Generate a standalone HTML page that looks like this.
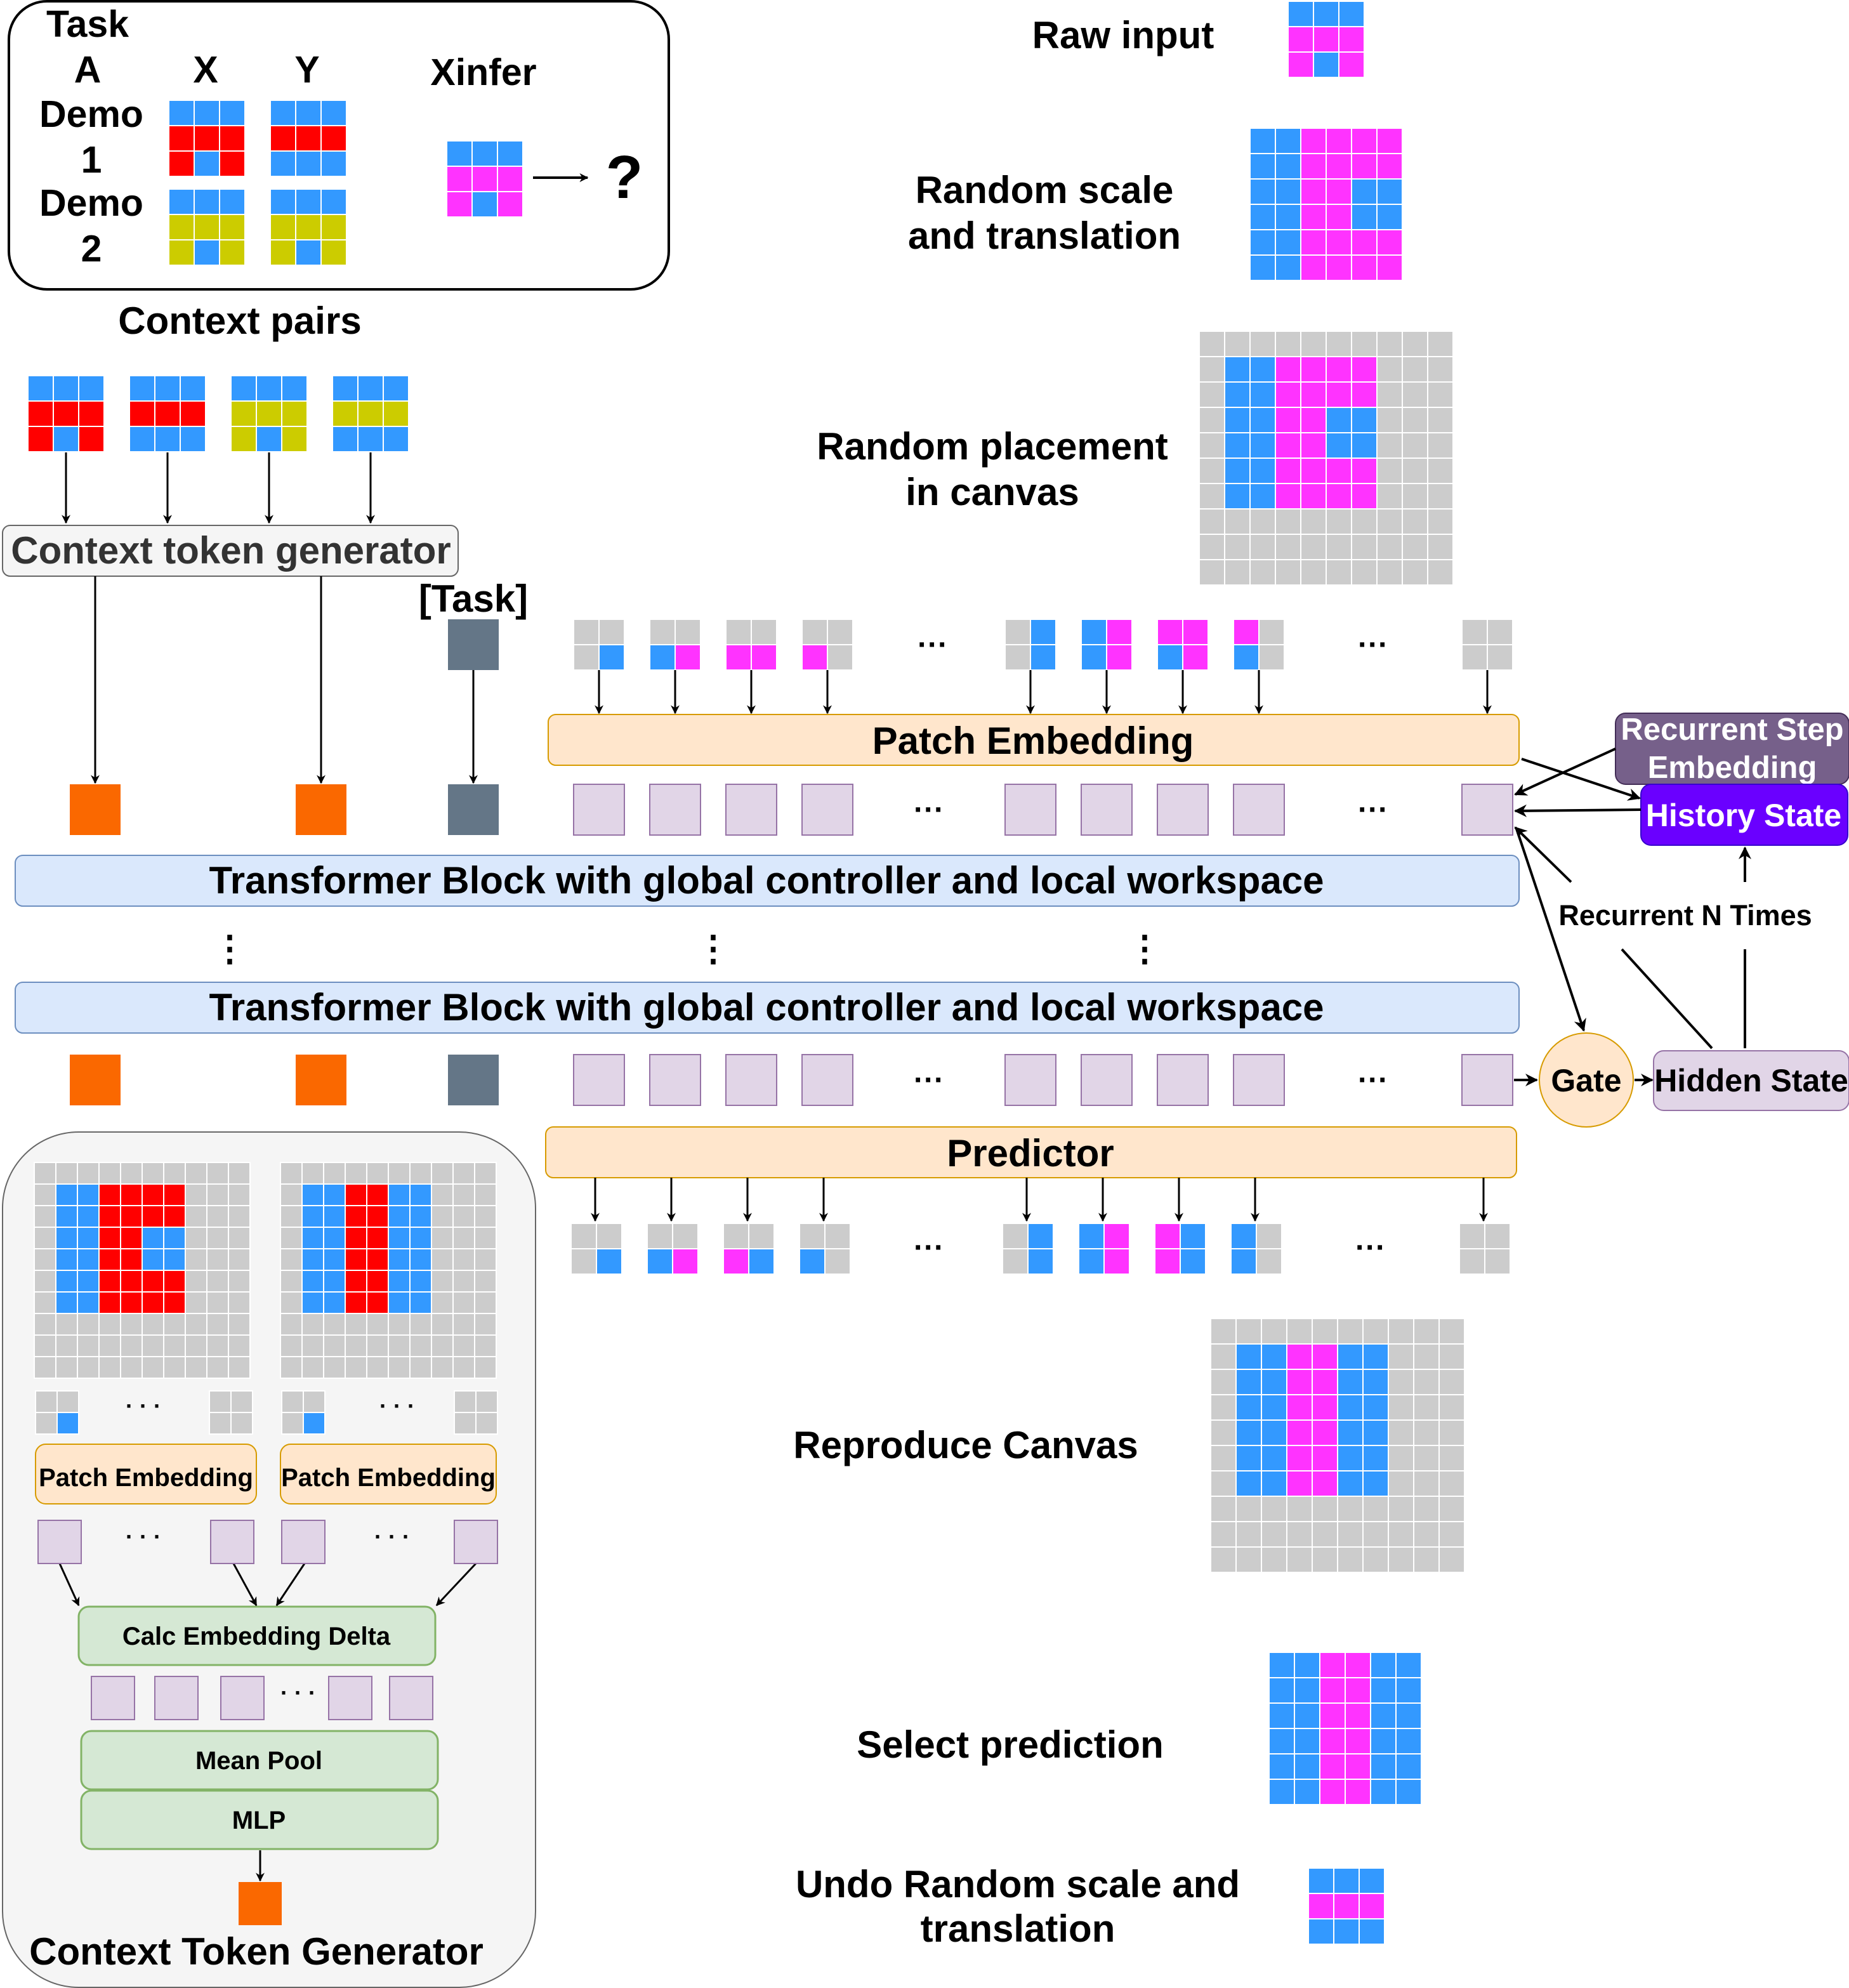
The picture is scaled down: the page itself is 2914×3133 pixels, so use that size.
<!DOCTYPE html>
<html><head><meta charset="utf-8">
<style>
html,body{margin:0;padding:0;background:#fff;}
svg{display:block;}
text{font-family:"Liberation Sans",Arial,sans-serif;font-weight:bold;fill:#000;}
</style></head>
<body>
<svg id="s" xmlns="http://www.w3.org/2000/svg" width="2914" height="3133" viewBox="0 0 1457 1566.5">
<defs>
<marker id="a" viewBox="0 0 10 10" refX="9" refY="5" markerWidth="7" markerHeight="7" orient="auto" markerUnits="userSpaceOnUse">
<path d="M0,0 L10,5 L0,10 L3,5 z" fill="#000"/></marker>
<marker id="b" viewBox="0 0 10 10" refX="9" refY="5" markerWidth="10" markerHeight="10" orient="auto" markerUnits="userSpaceOnUse">
<path d="M0,0 L10,5 L0,10 L3,5 z" fill="#000"/></marker>
</defs>
<rect width="1457" height="1566.5" fill="#fff"/>
<rect x="7" y="1" width="520" height="227" rx="30" fill="#fff" stroke="#000" stroke-width="2"/>
<g font-size="29.5" text-anchor="middle">
<text x="69" y="29">Task</text><text x="69" y="65">A</text>
<text x="162" y="65">X</text><text x="242" y="65">Y</text>
<text x="72" y="100">Demo</text><text x="72" y="136">1</text>
<text x="72" y="170">Demo</text><text x="72" y="206">2</text>
<text x="381" y="67">Xinfer</text>
</g>
<line x1="420" y1="140" x2="463" y2="140" stroke="#000" stroke-width="2" marker-end="url(#a)"/>
<text x="492" y="156" font-size="48" text-anchor="middle">?</text>

<g font-size="30" text-anchor="middle">
<text x="885" y="38">Raw input</text>
<text x="823" y="160">Random scale</text><text x="823" y="196">and translation</text>
<text x="782" y="362">Random placement</text><text x="782" y="398">in canvas</text>
<text x="189" y="263">Context pairs</text>
<text x="373" y="482">[Task]</text>
<text x="761" y="1149">Reproduce Canvas</text>
<text x="796" y="1385">Select prediction</text>
<text x="802" y="1495">Undo Random scale and</text><text x="802" y="1530">translation</text>
</g>

<rect x="2" y="414" width="359" height="40" rx="6" fill="#f5f5f5" stroke="#666" stroke-width="1"/>
<text x="182" y="444" font-size="30" text-anchor="middle" style="fill:#333">Context token generator</text>
<g stroke="#000" stroke-width="1.5" marker-end="url(#a)">
<line x1="52" y1="356" x2="52" y2="412"/><line x1="132" y1="356" x2="132" y2="412"/>
<line x1="212" y1="356" x2="212" y2="412"/><line x1="292" y1="356" x2="292" y2="412"/>
<line x1="75" y1="454" x2="75" y2="617"/><line x1="253" y1="454" x2="253" y2="617"/>
<line x1="373" y1="528" x2="373" y2="617"/>
</g>
<rect x="353" y="488" width="40" height="40" fill="#647687"/>

<rect x="432" y="563" width="765" height="40" rx="6" fill="#ffe6cc" stroke="#d79b00"/>
<text x="814" y="594" font-size="30" text-anchor="middle">Patch Embedding</text>
<rect x="12" y="674" width="1185" height="40" rx="6" fill="#dae8fc" stroke="#6c8ebf"/>
<text x="604" y="704" font-size="30" text-anchor="middle">Transformer Block with global controller and local workspace</text>
<rect x="12" y="774" width="1185" height="40" rx="6" fill="#dae8fc" stroke="#6c8ebf"/>
<text x="604" y="804" font-size="30" text-anchor="middle">Transformer Block with global controller and local workspace</text>
<g font-size="28" text-anchor="middle">
<text x="181" y="757">⋮</text><text x="562" y="757">⋮</text><text x="902" y="757">⋮</text>
</g>
<rect x="430" y="888" width="765" height="40" rx="6" fill="#ffe6cc" stroke="#d79b00"/>
<text x="812" y="919" font-size="30" text-anchor="middle">Predictor</text>

<rect x="1273" y="562" width="184" height="56" rx="8" fill="#76608a" stroke="#432d57"/>
<text x="1365" y="583" font-size="24.5" text-anchor="middle" style="fill:#fff">Recurrent Step</text>
<text x="1365" y="613" font-size="24.5" text-anchor="middle" style="fill:#fff">Embedding</text>
<rect x="1293" y="618" width="163" height="48" rx="8" fill="#6a00ff" stroke="#3700cc"/>
<text x="1374" y="651" font-size="25" text-anchor="middle" style="fill:#fff">History State</text>
<text x="1328" y="729" font-size="22.5" text-anchor="middle">Recurrent N Times</text>
<ellipse cx="1250" cy="851" rx="37" ry="37" fill="#ffe6cc" stroke="#d79b00"/>
<text x="1250" y="860" font-size="25" text-anchor="middle">Gate</text>
<rect x="1303" y="828" width="154" height="47" rx="8" fill="#e1d5e7" stroke="#9673a6"/>
<text x="1380" y="860" font-size="25" text-anchor="middle">Hidden State</text>
<g stroke="#000" stroke-width="2" fill="none">
<line x1="1199" y1="598" x2="1292" y2="629" marker-end="url(#b)"/>
<line x1="1273" y1="590" x2="1194" y2="626" marker-end="url(#b)"/>
<line x1="1293" y1="638" x2="1194" y2="639" marker-end="url(#b)"/>
<line x1="1238" y1="695" x2="1194" y2="652" marker-end="url(#b)"/>
<line x1="1196" y1="656" x2="1248" y2="812" marker-end="url(#b)"/>
<line x1="1375" y1="695" x2="1375" y2="668" marker-end="url(#b)"/>
<line x1="1349" y1="826" x2="1278" y2="748"/>
<line x1="1375" y1="826" x2="1375" y2="748"/>
<line x1="1193" y1="851" x2="1211" y2="851" marker-end="url(#b)"/>
<line x1="1288" y1="851" x2="1302" y2="851" marker-end="url(#b)"/>
</g>

<rect x="2" y="892" width="420" height="674" rx="60" fill="#f5f5f5" stroke="#666"/>
<rect x="28" y="1138" width="174" height="47" rx="8" fill="#ffe6cc" stroke="#d79b00"/>
<text x="115" y="1171" font-size="20" text-anchor="middle">Patch Embedding</text>
<rect x="221" y="1138" width="170" height="47" rx="8" fill="#ffe6cc" stroke="#d79b00"/>
<text x="306" y="1171" font-size="20" text-anchor="middle">Patch Embedding</text>
<rect x="62" y="1266" width="281" height="46" rx="8" fill="#d5e8d4" stroke="#82b366" stroke-width="1.5"/>
<text x="202" y="1296" font-size="20" text-anchor="middle">Calc Embedding Delta</text>
<rect x="64" y="1364" width="281" height="46" rx="8" fill="#d5e8d4" stroke="#82b366" stroke-width="1.5"/>
<text x="204" y="1394" font-size="20" text-anchor="middle">Mean Pool</text>
<rect x="64" y="1411" width="281" height="46" rx="8" fill="#d5e8d4" stroke="#82b366" stroke-width="1.5"/>
<text x="204" y="1441" font-size="20" text-anchor="middle">MLP</text>
<g stroke="#000" stroke-width="1.5" marker-end="url(#a)">
<line x1="47" y1="1232" x2="62" y2="1265"/><line x1="184" y1="1232" x2="202" y2="1265"/>
<line x1="240" y1="1232" x2="218" y2="1265"/><line x1="375" y1="1232" x2="344" y2="1265"/>
<line x1="205" y1="1458" x2="205" y2="1482"/>
</g>
<rect x="188" y="1483" width="34" height="34" fill="#fa6800"/>
<text x="202" y="1548" font-size="30" text-anchor="middle">Context Token Generator</text>
<g font-size="18" text-anchor="middle">
<text x="113" y="1114">· · ·</text><text x="313" y="1114">· · ·</text>
<text x="113" y="1217">· · ·</text><text x="309" y="1217">· · ·</text>
<text x="235" y="1340">· · ·</text>
</g>
<g id="gen"></g>
</svg>
<script>
var C={B:"#3399ff",R:"#ff0000",Y:"#cccc00",M:"#ff33ff",G:"#cccccc"};
var g=document.getElementById("gen"),h="";
function grid(x,y,c,rows){rows.forEach(function(r,i){for(var j=0;j<r.length;j++){h+='<rect x="'+(x+j*c)+'" y="'+(y+i*c)+'" width="'+c+'" height="'+c+'" fill="'+C[r[j]]+'" stroke="#fff" stroke-width="1"/>';}});}
function sq(x,y,s,f,st){h+='<rect x="'+x+'" y="'+y+'" width="'+s+'" height="'+s+'" fill="'+f+'"'+(st?' stroke="'+st+'"':'')+'/>';}
function txt(x,y,t,fs){h+='<text x="'+x+'" y="'+y+'" font-size="'+fs+'" text-anchor="middle">'+t+'</text>';}
grid(133,79,20,["BBB","RRR","RBR"]);grid(213,79,20,["BBB","RRR","BBB"]);
grid(133,149,20,["BBB","YYY","YBY"]);grid(213,149,20,["BBB","YYY","YBY"]);
grid(352,111,20,["BBB","MMM","MBM"]);
grid(22,296,20,["BBB","RRR","RBR"]);grid(102,296,20,["BBB","RRR","BBB"]);
grid(182,296,20,["BBB","YYY","YBY"]);grid(262,296,20,["BBB","YYY","BBB"]);
grid(1015,1,20,["BBB","MMM","MBM"]);
grid(985,101,20,["BBMMMM","BBMMMM","BBMMBB","BBMMBB","BBMMMM","BBMMMM"]);
var G10="GGGGGGGGGG";
grid(945,261,20,[G10,"GBBMMMMGGG","GBBMMMMGGG","GBBMMBBGGG","GBBMMBBGGG","GBBMMMMGGG","GBBMMMMGGG",G10,G10,G10]);
var rp="GBBMMBBGGG";
grid(954,1039,20,[G10,rp,rp,rp,rp,rp,rp,G10,G10,G10]);
var sp="BBMMBB";grid(1000,1302,20,[sp,sp,sp,sp,sp,sp]);
grid(1031,1472,20,["BBB","MMM","BBB"]);
var px=[452,512,572,632,792,852,912,972,1152];
var pin=[["GG","GB"],["GG","BM"],["GG","MM"],["GG","MG"],["GB","GB"],["BM","BM"],["MM","BM"],["MG","BG"],["GG","GG"]];
px.forEach(function(x,i){grid(x,488,20,pin[i]);
 h+='<line x1="'+(x+20)+'" y1="528" x2="'+(x+20)+'" y2="562" stroke="#000" stroke-width="1.5" marker-end="url(#a)"/>';
 sq(x,618,40,"#e1d5e7","#9673a6");sq(x,831,40,"#e1d5e7","#9673a6");});
[[735,516],[1082,516],[732,646],[1082,646],[732,859],[1082,859],[732,991],[1080,991]].forEach(function(p){txt(p[0],p[1],"···",24);});
sq(55,618,40,"#fa6800");sq(233,618,40,"#fa6800");sq(353,618,40,"#647687");
sq(55,831,40,"#fa6800");sq(233,831,40,"#fa6800");sq(353,831,40,"#647687");
var ox=[450,510,570,630,790,850,910,970,1150];
var pout=[["GG","GB"],["GG","BM"],["GG","MB"],["GG","BG"],["GB","GB"],["BM","BM"],["MB","MB"],["BG","BG"],["GG","GG"]];
ox.forEach(function(x,i){grid(x,964,20,pout[i]);
 h+='<line x1="'+(x+19)+'" y1="928" x2="'+(x+19)+'" y2="962" stroke="#000" stroke-width="1.5" marker-end="url(#a)"/>';});
var l1="GBBRRRRGGG",l2="GBBRRBBGGG",r1="GBBRRBBGGG";
grid(27,916,17,[G10,l1,l1,l2,l2,l1,l1,G10,G10,G10]);
grid(221,916,17,[G10,r1,r1,r1,r1,r1,r1,G10,G10,G10]);
grid(28,1096,17,["GG","GB"]);grid(165,1096,17,["GG","GG"]);
grid(222,1096,17,["GG","GB"]);grid(358,1096,17,["GG","GG"]);
[30,166,222,358].forEach(function(x){sq(x,1198,34,"#e1d5e7","#9673a6");});
[72,122,174,259,307].forEach(function(x){sq(x,1321,34,"#e1d5e7","#9673a6");});
g.innerHTML=h;
</script>
</body></html>
